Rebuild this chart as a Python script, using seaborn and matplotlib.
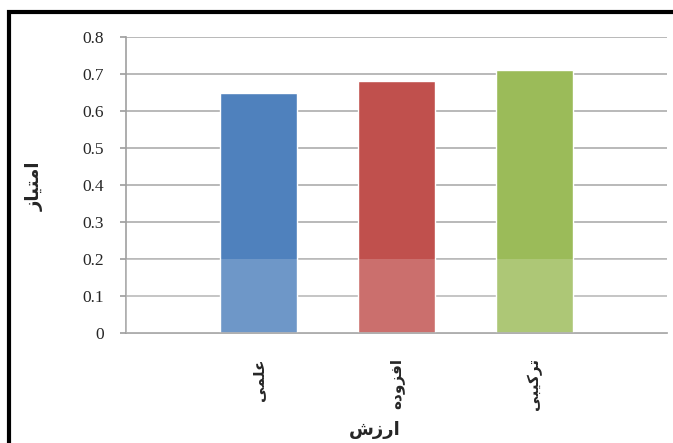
import matplotlib
matplotlib.use("Agg")
import matplotlib.pyplot as plt
import seaborn as sns
import pandas as pd
from matplotlib.patches import Rectangle

# Persian labels, written with presentation forms in visual order
# (matplotlib has no Arabic shaping)
categories = ["\uFEF0\uFEE4\uFEE0\uFECB",                    # علمی
              "\uFEE9\uFEA9\uFEED\uFEB0\uFED3\uFE8D",        # افزوده
              "\uFEF0\uFE92\uFEF4\uFB90\uFEAE\uFE97"]        # ترکیبی
values = [0.65, 0.68, 0.71]
colors = ["#4f81bd", "#c0504d", "#9bbb59"]
y_ticks = [0, 0.1, 0.2, 0.3, 0.4, 0.5, 0.6, 0.7, 0.8]
y_label = "\uFEAF\uFE8E\uFEF4\uFE98\uFEE3\uFE8D"             # امتیاز
x_label = "\uFEB5\uFEAF\uFEAD\uFE8D"                         # ارزش

df = pd.DataFrame({"cat": categories, "val": values})

sns.set_theme(style="white")
plt.rcParams["font.family"] = ["DejaVu Sans"]

fig = plt.figure(figsize=(6.73, 4.43), dpi=100)
ax = fig.add_axes([0.187, 0.248, 0.804, 0.6685])

sns.barplot(data=df, x="cat", y="val", hue="cat", palette=colors, saturation=1,
            width=0.56, legend=False, ax=ax, zorder=2)

ax.set_ylim(0, 0.8)
ax.set_xlim(-0.96, 2.96)
ax.set_yticks(y_ticks)
ax.set_yticklabels([f"{t:g}" for t in y_ticks], family="Liberation Serif", fontsize=12.5)
ax.yaxis.grid(True, color="#a6a6a6", linewidth=1.1, zorder=0)
ax.set_axisbelow(True)

for s in ["top", "right"]:
    ax.spines[s].set_visible(False)
for s in ["left", "bottom"]:
    ax.spines[s].set_color("#a0a0a0")
    ax.spines[s].set_linewidth(1.2)
ax.tick_params(axis="y", left=True, length=4, color="#a0a0a0", pad=12)
ax.tick_params(axis="x", bottom=False, pad=12)
plt.setp(ax.get_xticklabels(), rotation=90, fontsize=11, fontweight="bold", va="top")
ax.set_xlabel("")
ax.set_ylabel("")

# watermark lightening the lower part
ax.axhspan(0, 0.2, color="white", alpha=0.18, zorder=3, linewidth=0)

fig.text(0.052, 0.58, y_label, rotation=90, fontsize=13, fontweight="bold",
         ha="center", va="center")
fig.text(0.557, 0.03, x_label, fontsize=13, fontweight="bold",
         ha="center", va="center")

# outer frame
fig.patches.append(Rectangle((0.013, -0.05), 1.05, 1.023, transform=fig.transFigure,
                             fill=False, edgecolor="black", linewidth=3))

fig.savefig("out.png", dpi=100)
